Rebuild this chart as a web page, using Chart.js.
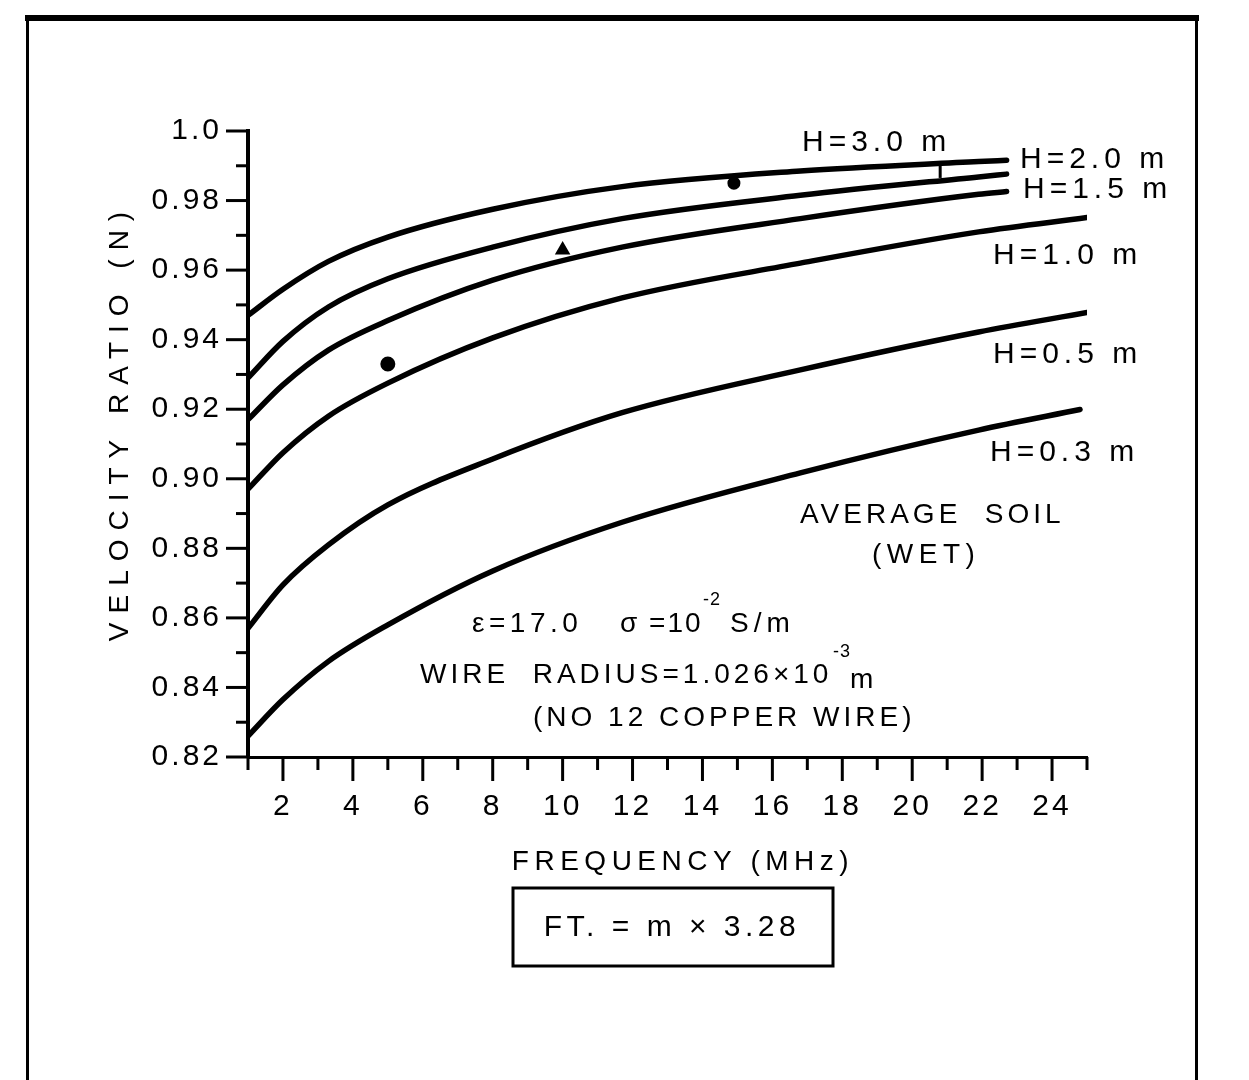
<!DOCTYPE html>
<html>
<head>
<meta charset="utf-8">
<script src="https://cdn.jsdelivr.net/npm/chart.js@4.4.1/dist/chart.umd.min.js"></script>
<style>
  html, body { margin: 0; padding: 0; background: #fff; }
  #wrap { width: 1249px; height: 1080px; }
</style>
</head>
<body>
<div id="wrap"><canvas id="velocityChart" width="1249" height="1080"></canvas></div>
<script>
// frequency (MHz) sample points for each family of curves
const freqShort = [1, 2, 3.3, 5, 8, 11.7, 16.8, 21.9, 22.7];
const freqLong = [1, 2, 3.3, 5, 8, 11.7, 16.8, 21.9, 25];
const freqLow = [1, 2, 3.3, 5, 8, 11.7, 16.8, 21.9, 24.8];

// velocity ratio N for each wire height H
const ratioH30 = [0.947, 0.9545, 0.9625, 0.9695, 0.9775, 0.984, 0.9885, 0.9912, 0.9916];
const ratioH20 = [0.929, 0.9395, 0.9494, 0.9575, 0.9666, 0.9748, 0.9815, 0.9868, 0.9876];
const ratioH15 = [0.917, 0.927, 0.937, 0.9455, 0.9571, 0.9666, 0.9748, 0.9818, 0.9826];
const ratioH10 = [0.897, 0.9075, 0.918, 0.9275, 0.9405, 0.952, 0.962, 0.971, 0.9751];
const ratioH05 = [0.857, 0.8695, 0.881, 0.8925, 0.9057, 0.919, 0.9313, 0.9422, 0.9478];
const ratioH03 = [0.826, 0.8365, 0.8475, 0.858, 0.8735, 0.8875, 0.9017, 0.914, 0.9199];

// measured points
const measuredFreq = [5, 10, 14.9, 20.8];
const measuredRatio = [0.933, 0.9658, 0.985, 0.9888];
const measuredStyle = ['circle', 'triangle', 'circle', 'line'];

// labelled ticks
const freqLabels = [2, 4, 6, 8, 10, 12, 14, 16, 18, 20, 22, 24];
const ratioLabels = { 82: '0.82', 84: '0.84', 86: '0.86', 88: '0.88', 90: '0.90',
  92: '0.92', 94: '0.94', 96: '0.96', 98: '0.98', 100: '1.0' };

const FONT = "'Liberation Sans', Arial, sans-serif";

function points(xs, ys) {
  return xs.map((x, i) => ({ x: x, y: ys[i] }));
}

function curve(label, xs, ys) {
  return {
    type: 'line',
    label: label,
    data: points(xs, ys),
    borderColor: '#000',
    borderWidth: 5.5,
    borderCapStyle: 'round',
    pointRadius: 0,
    fill: false,
    cubicInterpolationMode: 'monotone'
  };
}

function text(ctx, str, x, y, size, spacing, align) {
  ctx.font = size + 'px ' + FONT;
  ctx.letterSpacing = spacing + 'px';
  ctx.textAlign = align || 'left';
  ctx.textBaseline = 'middle';
  ctx.fillText(str, x, y);
}

// page frame, drawn first
const frame = {
  id: 'frame',
  beforeDraw(chart) {
    const ctx = chart.ctx;
    ctx.save();
    ctx.fillStyle = '#fff';
    ctx.fillRect(0, 0, chart.width, chart.height);
    ctx.fillStyle = '#000';
    ctx.fillRect(25, 15, 1174, 6);
    ctx.fillRect(26, 15, 3, 1065);
    ctx.fillRect(1195, 15, 3, 1065);
    ctx.restore();
    ctx.letterSpacing = '3px';
  }
};

// tick marks: long at labelled values, short in between
const tickMarks = {
  id: 'tickMarks',
  afterDraw(chart) {
    const { ctx, scales: { x, y } } = chart;
    ctx.save();
    ctx.strokeStyle = '#000';
    ctx.lineWidth = 3;
    x.ticks.forEach(t => {
      const px = x.getPixelForValue(t.value);
      const len = freqLabels.includes(Math.round(t.value)) ? 24 : 13;
      ctx.beginPath();
      ctx.moveTo(px, x.top);
      ctx.lineTo(px, x.top + len);
      ctx.stroke();
    });
    y.ticks.forEach(t => {
      const py = y.getPixelForValue(t.value);
      const len = ratioLabels[Math.round(t.value * 100)] ? 22 : 12;
      ctx.beginPath();
      ctx.moveTo(y.right, py);
      ctx.lineTo(y.right - len, py);
      ctx.stroke();
    });
    ctx.restore();
  }
};

// axis titles, curve labels and notes
const notes = {
  id: 'notes',
  afterDraw(chart) {
    const ctx = chart.ctx;
    ctx.save();
    ctx.fillStyle = '#000';

    ctx.save();
    ctx.translate(120, 422);
    ctx.rotate(-Math.PI / 2);
    text(ctx, 'VELOCITY RATIO (N)', 0, 0, 28, 9, 'center');
    ctx.restore();
    text(ctx, 'FREQUENCY (MHz)', 683, 862, 28, 5.5, 'center');

    text(ctx, 'H=3.0 m', 802, 143, 30, 5);
    text(ctx, 'H=2.0 m', 1020, 160, 30, 5);
    text(ctx, 'H=1.5 m', 1023, 190, 30, 5);
    text(ctx, 'H=1.0 m', 993, 256, 30, 5);
    text(ctx, 'H=0.5 m', 993, 355, 30, 5);
    text(ctx, 'H=0.3 m', 990, 453, 30, 5);

    text(ctx, 'AVERAGE  SOIL', 800, 515, 28, 4);
    text(ctx, '(WET)', 872, 555, 28, 5.5);

    text(ctx, 'ε=17.0', 472, 624, 28, 4.5);
    text(ctx, 'σ =10', 620, 624, 28, 2);
    text(ctx, '-2', 703, 600, 18, 1);
    text(ctx, 'S/m', 730, 624, 28, 5);

    text(ctx, 'WIRE  RADIUS=1.026×10', 420, 675, 28, 4);
    text(ctx, '-3', 833, 652, 18, 1);
    text(ctx, 'm', 850, 680, 28, 2);
    text(ctx, '(NO 12 COPPER WIRE)', 533, 718, 28, 4);

    ctx.lineWidth = 3;
    ctx.strokeStyle = '#000';
    ctx.strokeRect(513, 888, 320, 78);
    text(ctx, 'FT. = m × 3.28', 672, 928, 30, 4.5, 'center');
    ctx.restore();
  }
};

new Chart('velocityChart', {
  data: {
    datasets: [
      curve('H=3.0 m', freqShort, ratioH30),
      curve('H=2.0 m', freqShort, ratioH20),
      curve('H=1.5 m', freqShort, ratioH15),
      curve('H=1.0 m', freqLong, ratioH10),
      curve('H=0.5 m', freqLong, ratioH05),
      curve('H=0.3 m', freqLow, ratioH03),
      {
        type: 'scatter',
        label: 'measured',
        data: points(measuredFreq, measuredRatio),
        pointStyle: measuredStyle,
        pointRadius: [6, 6, 5, 8],
        pointRotation: [0, 0, 0, 90],
        backgroundColor: '#000',
        borderColor: '#000',
        borderWidth: 3
      }
    ]
  },
  options: {
    responsive: false,
    animation: false,
    layout: { padding: { top: 131, right: 162, left: 0, bottom: 0 } },
    plugins: {
      legend: { display: false },
      tooltip: { enabled: false }
    },
    scales: {
      x: {
        type: 'linear',
        min: 1,
        max: 25,
        afterFit: scale => { scale.height = 323; },
        grid: { display: false, drawTicks: false },
        border: { display: true, color: '#000', width: 3 },
        ticks: {
          stepSize: 1,
          autoSkip: false,
          maxRotation: 0,
          padding: 32,
          color: '#000',
          font: { family: FONT, size: 30 },
          callback: v => freqLabels.includes(Math.round(v)) ? String(Math.round(v)) : ''
        }
      },
      y: {
        type: 'linear',
        min: 0.82,
        max: 1.0,
        afterFit: scale => { scale.width = 248; },
        grid: { display: false, drawTicks: false },
        border: { display: true, color: '#000', width: 4 },
        ticks: {
          stepSize: 0.01,
          autoSkip: false,
          padding: 26,
          color: '#000',
          font: { family: FONT, size: 30 },
          callback: v => ratioLabels[Math.round(v * 100)] || ''
        }
      }
    }
  },
  plugins: [frame, tickMarks, notes]
});
</script>
</body>
</html>
